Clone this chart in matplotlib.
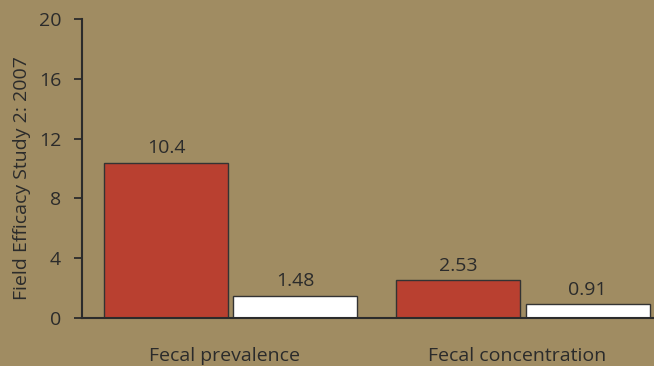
import numpy as np
import matplotlib.pyplot as plt

categories = ['Fecal prevalence', 'Fecal concentration']
control = [10.4, 2.53]
treated = [1.48, 0.91]
yticks = [0, 4, 8, 12, 16, 20]

bg = '#A08C62'
red = '#B94030'
ink = '#2B2B2B'

plt.rcParams['font.family'] = ['Open Sans', 'DejaVu Sans']

fig = plt.figure(figsize=(6.54, 3.66), dpi=100, facecolor=bg)
ax = fig.add_axes([0.1254, 0.1311, 0.8746, 0.8169])
ax.set_facecolor(bg)

x = np.arange(len(categories))
w = 0.424
gap = 0.009
b1 = ax.bar(x - w / 2 - gap, control, w, color=red, edgecolor='#333333', linewidth=1)
b2 = ax.bar(x + w / 2 + gap, treated, w, color='white', edgecolor='#333333', linewidth=1)

for bars, vals in [(b1, control), (b2, treated)]:
    for b, v in zip(bars, vals):
        ax.annotate(f'{v:g}', (b.get_x() + b.get_width() / 2, v),
                    xytext=(0, 4), textcoords='offset points',
                    ha='center', va='bottom', fontsize=14, color=ink)

ax.set_xlim(-0.508, 1.448)
ax.set_ylim(0, 20)
ax.set_yticks(yticks)
ax.set_xticks(x - 0.02)
ax.set_xticklabels(categories)
ax.tick_params(axis='x', length=0, pad=21, labelsize=14, colors=ink)
ax.tick_params(axis='y', length=6, width=1.3, direction='out', labelsize=14,
               colors=ink, pad=9)
ax.set_ylabel('Field Efficacy Study 2: 2007', fontsize=14, color=ink)
ax.yaxis.set_label_coords(-0.089, 0.468)

for s in ['top', 'right']:
    ax.spines[s].set_visible(False)
for s in ['left', 'bottom']:
    ax.spines[s].set_color(ink)
    ax.spines[s].set_linewidth(1.5)

fig.savefig('out.png', dpi=100, facecolor=bg)
